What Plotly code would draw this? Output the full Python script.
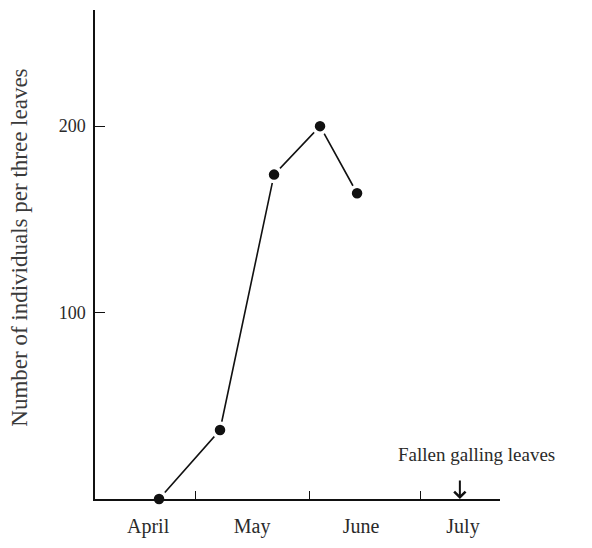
import plotly.graph_objects as go

# Data
sample_dates = ["1975-04-21 07:00", "1975-05-07 18:00", "1975-05-22 08:00",
                "1975-06-03 18:00", "1975-06-13 18:00"]
individuals = [0, 37, 174, 200, 164]

month_label_dates = ["1975-04-18 08:00", "1975-05-16 10:00", "1975-06-14 20:00", "1975-07-12 08:00"]
month_labels = ["April", "May", "June", "July"]
month_boundaries = ["1975-05-01", "1975-06-01", "1975-07-01"]

fallen_date = "1975-07-11 12:00"
fallen_text = "Fallen galling leaves"
y_title = "Number of individuals per three leaves"
y_ticks = [100, 200]

SERIF = "Liberation Serif, Times New Roman, serif"
TXT = "#2a2a2a"
INK = "#111111"

fig = go.Figure()
fig.add_trace(go.Scatter(
    x=sample_dates, y=individuals, mode="lines+markers",
    line=dict(color=INK, width=1.6),
    marker=dict(size=14, color=INK, line=dict(color="white", width=3.5)),
    showlegend=False, cliponaxis=False,
))

fig.update_layout(
    width=592, height=548,
    margin=dict(l=95, r=92, t=10, b=37),
    paper_bgcolor="white", plot_bgcolor="white",
    font=dict(family=SERIF, color=TXT, size=18),
    xaxis=dict(
        type="date",
        range=["1975-04-04", "1975-07-22 08:00"],
        tickmode="array", tickvals=month_label_dates, ticktext=month_labels,
        ticks="", showgrid=False, zeroline=False,
        showline=True, linecolor=INK, linewidth=1.5,
        tickfont=dict(size=20, family=SERIF, color=TXT),
        ticklabelstandoff=8,
        minor=dict(tickmode="array", tickvals=month_boundaries,
                   ticks="inside", ticklen=8, tickwidth=1.3, tickcolor=INK,
                   showgrid=False),
    ),
    yaxis=dict(
        range=[0, 262.3],
        tickmode="array", tickvals=y_ticks,
        ticks="inside", ticklen=10, tickwidth=1.3, tickcolor=INK,
        showgrid=False, zeroline=False,
        showline=True, linecolor=INK, linewidth=1.5,
        tickfont=dict(size=18, family=SERIF, color=TXT),
        ticklabelstandoff=4,
    ),
    annotations=[
        dict(text=y_title, xref="paper", yref="paper", x=-0.185, y=0.514,
             xanchor="center", yanchor="middle", textangle=-90, showarrow=False,
             font=dict(size=23, family=SERIF, color="#3a3a3a")),
        dict(text=fallen_text, xref="paper", yref="paper", x=0.941, y=0.092,
             xanchor="center", yanchor="middle", showarrow=False,
             font=dict(size=19, family=SERIF, color=TXT)),
        dict(text="", x=fallen_date, y=0, xref="x", yref="y",
             showarrow=True, ax=0, ay=-20, arrowhead=4, arrowsize=1.1,
             arrowwidth=2, arrowcolor=INK, standoff=0),
    ],
)

fig.write_html("out.html")
